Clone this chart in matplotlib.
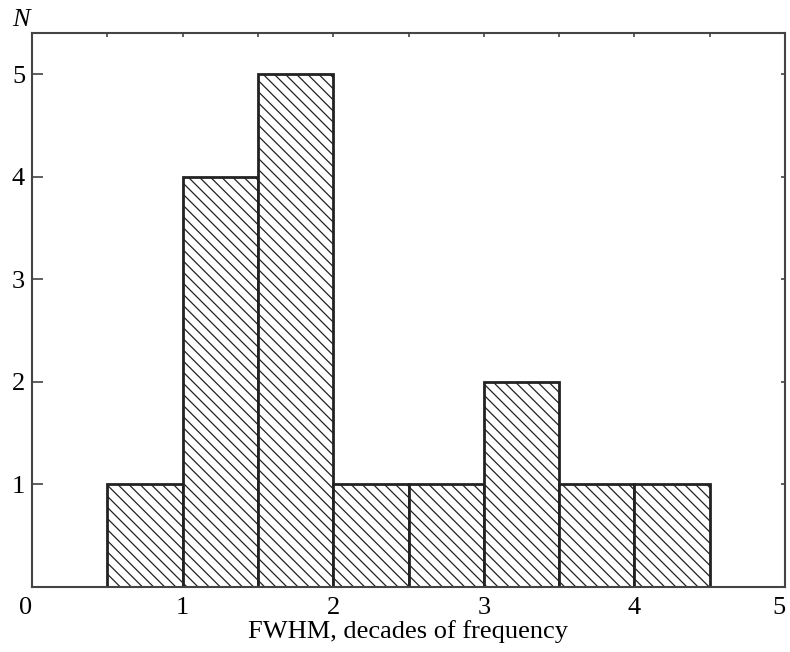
import numpy as np
import matplotlib
matplotlib.use('Agg')
from matplotlib import pyplot as plt

# histogram of FWHM (decades of frequency)
bin_left = [0.5, 1.0, 1.5, 2.0, 2.5, 3.0, 3.5, 4.0]
counts = [1, 4, 5, 1, 1, 2, 1, 1]
bin_width = 0.5
x_ticks = [0, 1, 2, 3, 4, 5]
y_ticks = [1, 2, 3, 4, 5]

plt.rcParams['font.family'] = ['Liberation Serif', 'DejaVu Serif']
plt.rcParams['hatch.linewidth'] = 0.9
plt.rcParams['hatch.color'] = '#222222'

fig = plt.figure(figsize=(7.9, 6.52), dpi=100)
ax = fig.add_axes([32/790, 1 - 587/652, (785 - 32)/790, (587 - 33)/652])

ax.bar(bin_left, counts, width=bin_width, align='edge', facecolor='white',
       edgecolor='#222222', linewidth=2.0, hatch='\\\\\\', zorder=2)

ax.set_xlim(0, 5)
ax.set_ylim(0, 5.4)
ax.set_xticks(x_ticks)
ax.set_yticks(y_ticks)
ax.tick_params(axis='both', labelsize=19, direction='in', color='#444444')
ax.tick_params(axis='y', length=8, width=1.2, right=False, pad=5)
ax.tick_params(axis='x', length=0, pad=7)
# the "0" sits left of the corner like the y labels, the "5" stays inside the canvas
ax.get_xticklabels()[0].set_horizontalalignment('right')
ax.get_xticklabels()[-1].set_horizontalalignment('right')

# small ticks on top and right
top = ax.secondary_xaxis('top')
top.set_xticks(np.arange(0.5, 5, 0.5))
top.tick_params(direction='in', length=3, width=1.2, labeltop=False, color='#444444')
top.set_xticklabels([])
right = ax.secondary_yaxis('right')
right.set_yticks(y_ticks)
right.tick_params(direction='in', length=3, width=1.2, color='#444444')
right.set_yticklabels([])

for sp in ax.spines.values():
    sp.set_linewidth(1.5)
    sp.set_color('#444444')
top.spines['top'].set_visible(False)
right.spines['right'].set_visible(False)

ax.set_xlabel('FWHM, decades of frequency', fontsize=19, labelpad=1)
fig.text(21/790, 1 - 20/652, 'N', fontsize=19, style='italic', ha='center', va='center')

fig.savefig('out.png', dpi=100)
